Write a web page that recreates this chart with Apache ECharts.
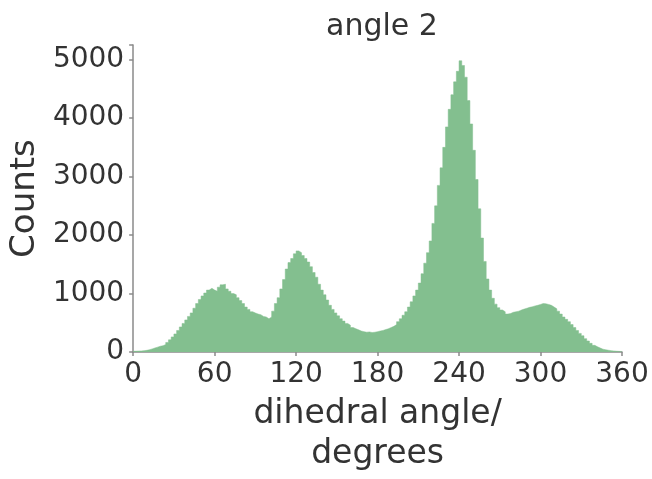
<!DOCTYPE html>
<html>
<head>
<meta charset="utf-8">
<script src="https://cdn.jsdelivr.net/npm/echarts@6/dist/echarts.min.js"></script>
<style>
html,body{margin:0;padding:0;background:#fff;}
#chart{width:652px;height:479px;}
</style>
</head>
<body>
<div id="chart"></div>
<script>
// Histogram of dihedral angle, 2-degree bins starting at 0
const binStart = 0;
const binWidth = 2;
const counts = [
  15, 18, 20, 25, 30, 40, 55, 70, 85, 100,
  110, 130, 165, 210, 260, 310, 370, 430, 490, 550,
  610, 670, 750, 830, 900, 960, 1010, 1060, 1090, 1060,
  1040, 1110, 1150, 1160, 1080, 1040, 1000, 980, 930, 880,
  830, 770, 730, 690, 670, 650, 640, 610, 600, 570,
  600, 700, 830, 930, 1080, 1240, 1420, 1530, 1600, 1680,
  1730, 1700, 1650, 1600, 1540, 1460, 1360, 1280, 1160, 1060,
  980, 890, 800, 730, 670, 620, 570, 530, 490, 460,
  420, 400, 380, 360, 350, 340, 345, 335, 340, 350,
  360, 370, 385, 400, 420, 440, 470, 520, 570, 630,
  690, 770, 860, 960, 1060, 1180, 1340, 1520, 1700, 1900,
  2200, 2500, 2850, 3150, 3500, 3850, 4150, 4400, 4620, 4800,
  4980, 4900, 4700, 4300, 3900, 3450, 2950, 2450, 1950, 1550,
  1250, 1060, 920, 820, 760, 720, 690, 650, 660, 680,
  690, 700, 720, 735, 750, 765, 775, 790, 800, 815,
  830, 825, 815, 800, 770, 740, 700, 650, 600, 560,
  520, 470, 420, 370, 320, 280, 230, 190, 150, 115,
  90, 70, 50, 40, 32, 25, 20, 15, 12, 10
];
const xTicks = [0, 60, 120, 180, 240, 300, 360];
const yTicks = [0, 1000, 2000, 3000, 4000, 5000];
const titleText = 'angle 2';
const xName = 'dihedral angle/\ndegrees';
const yName = 'Counts';

const stepData = counts.map((c, i) => [binStart + i * binWidth, c]);
stepData.push([binStart + counts.length * binWidth, counts[counts.length - 1]]);

const FONT = 'DejaVu Sans';
const TXT = '#333333';
const AX = '#8a8a8a';

const chart = echarts.init(document.getElementById('chart'), null, {renderer: 'canvas'});
chart.setOption({
  animation: false,
  backgroundColor: '#ffffff',
  title: {
    text: titleText,
    left: 377, top: 7, textAlign: 'center',
    textStyle: {fontFamily: FONT, fontSize: 30, fontWeight: 'normal', color: TXT}
  },
  grid: {left: 132, right: 30, top: 45, bottom: 117, containLabel: false},
  xAxis: {
    type: 'value', min: xTicks[0], max: xTicks[xTicks.length - 1], interval: 60,
    name: xName, nameLocation: 'middle', nameGap: 38,
    nameTextStyle: {fontFamily: FONT, fontSize: 33, color: TXT, lineHeight: 40},
    axisLine: {show: true, lineStyle: {color: AX, width: 1.5}},
    axisTick: {show: true, length: 4, lineStyle: {color: AX, width: 1.5}},
    axisLabel: {fontFamily: FONT, fontSize: 28, color: TXT, margin: 9},
    splitLine: {show: false}
  },
  yAxis: {
    type: 'value', min: 0, max: 5250, interval: 1000,
    name: yName, nameLocation: 'middle', nameGap: 90, nameRotate: 90,
    nameTextStyle: {fontFamily: FONT, fontSize: 34, color: TXT},
    axisLine: {show: true, lineStyle: {color: AX, width: 1.5}},
    axisTick: {show: true, length: 4, lineStyle: {color: AX, width: 1.5}},
    axisLabel: {fontFamily: FONT, fontSize: 28, color: TXT, margin: 9,
      formatter: v => (yTicks.indexOf(v) >= 0 ? String(v) : '')},
    splitLine: {show: false}
  },
  series: [{
    type: 'line',
    step: 'end',
    data: stepData,
    symbol: 'none',
    lineStyle: {width: 0.5, color: '#83bf8f'},
    areaStyle: {color: '#83bf8f', opacity: 1},
    z: 1
  }]
});
</script>
</body>
</html>
